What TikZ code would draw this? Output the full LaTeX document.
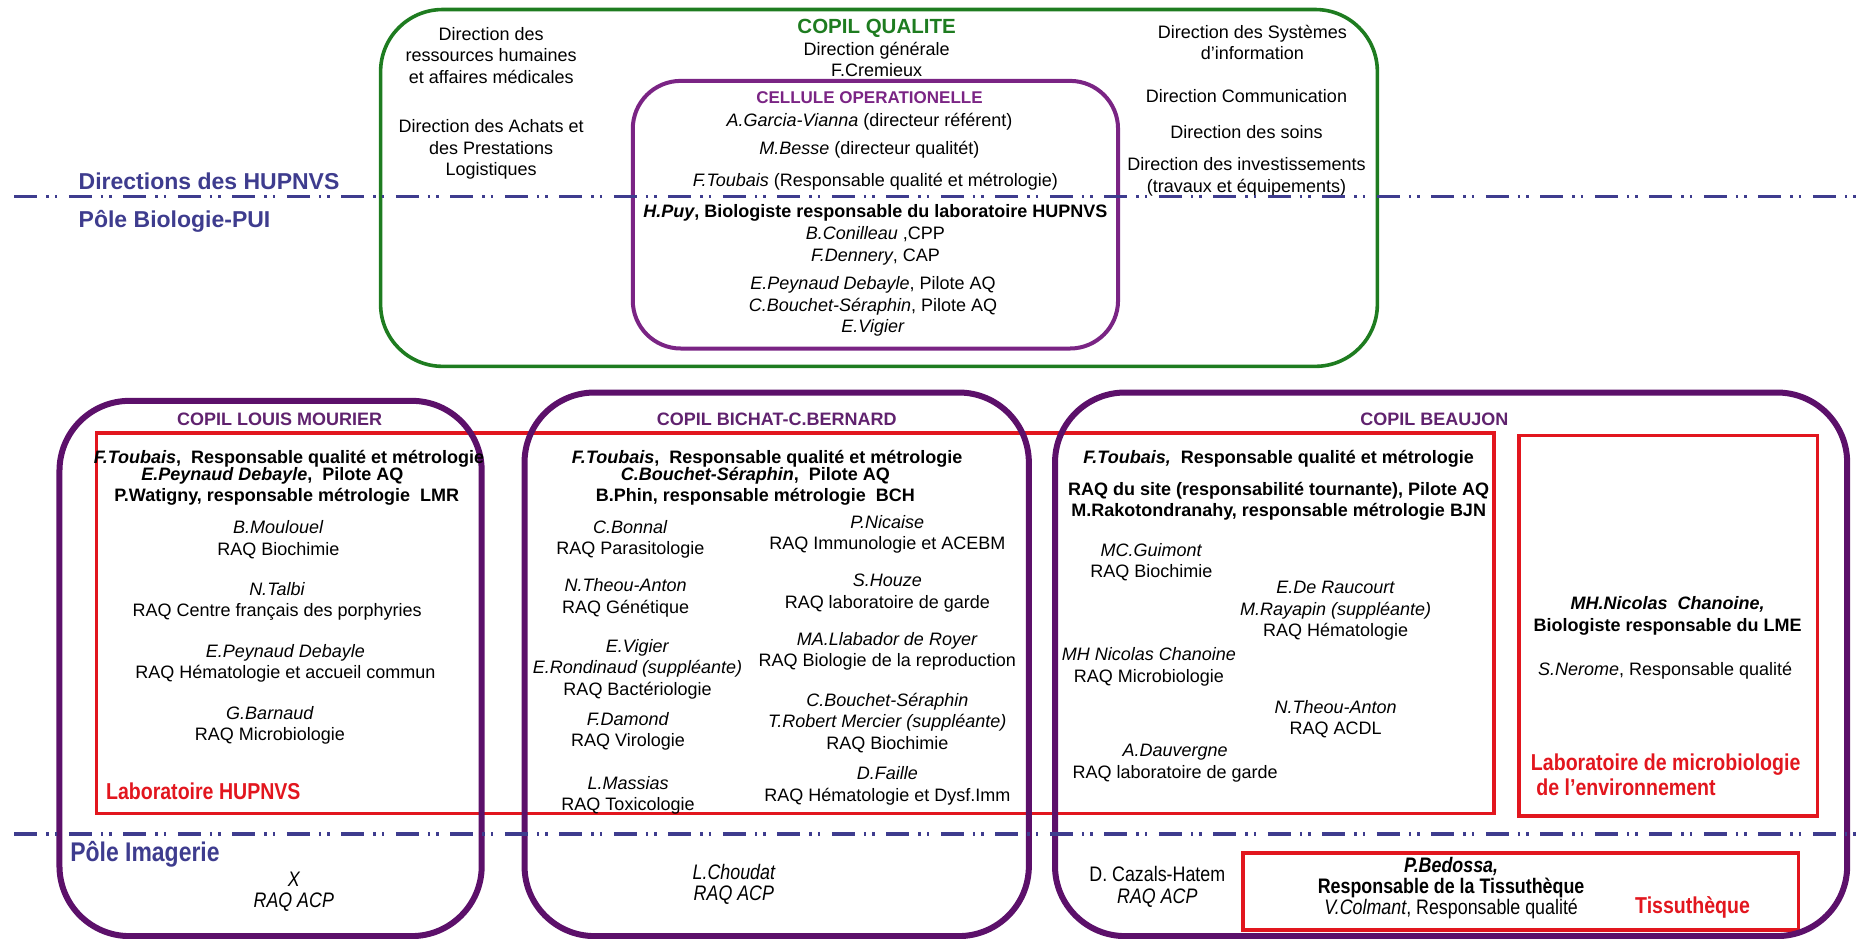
\documentclass[tikz,border=0pt]{standalone}
\usepackage{fontspec}
\setmainfont{Liberation Sans}
\newfontfamily\narrowfont[FakeStretch=0.85]{Liberation Sans}
\definecolor{copilgreen}{RGB}{30,124,32}
\definecolor{cellpurple}{RGB}{122,36,132}
\definecolor{boxpurple}{RGB}{92,16,106}
\definecolor{titlepurple}{RGB}{96,34,110}
\definecolor{labred}{RGB}{226,22,30}
\definecolor{poleblue}{RGB}{62,60,142}
\tikzset{
  txt/.style={font=\fontsize{18}{21.4}\selectfont, align=center, inner sep=0pt, text=black, yshift=-2pt},
  btxt/.style={txt, font=\fontsize{18}{21.4}\selectfont\bfseries},
  ntxt/.style={font=\narrowfont\fontsize{21}{21.4}\selectfont, align=center, inner sep=0pt, text=black, yshift=-2pt},
  ttl/.style={font=\fontsize{18}{21.4}\selectfont\bfseries, text=titlepurple, inner sep=0pt, yshift=-1pt},
  pole/.style={font=\fontsize{23}{26}\selectfont\bfseries, text=poleblue, anchor=west, inner sep=0pt},
  redlbl/.style={font=\narrowfont\fontsize{23}{25}\selectfont\bfseries, text=labred, inner sep=0pt, align=left},
  greenbox/.style={draw=copilgreen, line width=3.6pt, rounded corners=62pt},
  cellbox/.style={draw=cellpurple, line width=4pt, rounded corners=48pt},
  sitebox/.style={draw=boxpurple, line width=6pt, rounded corners=70pt},
  redbox/.style={draw=labred, line width=3.5pt},
  poleline/.style={draw=poleblue, line width=3.5pt, dash pattern=on 23pt off 9pt on 2.5pt off 6pt on 2.5pt off 11.5pt}
}
\begin{document}
\begin{tikzpicture}[x=1.1894pt, y=-1.1894pt]
\useasboundingbox (0,0) rectangle (1568,789);
% ---------------- top: COPIL QUALITE ----------------
\draw[greenbox] (320,8) rectangle (1158,308);
\draw[cellbox] (532,68) rectangle (940,293);
\node[font=\fontsize{20.5}{24}\selectfont\bfseries, text=copilgreen, inner sep=0pt, yshift=-2pt] (copil) at (737,22) {COPIL QUALITE};
\node[txt] (dg) at (737,48.5) {Direction générale\\F.Cremieux};
\node[txt] (drh) at (413,45) {Direction des\\ressources humaines\\et affaires médicales};
\node[txt] (achats) at (413,124) {Direction des Achats et\\des Prestations\\Logistiques};
\node[txt] (dsi) at (1053,34) {Direction des Systèmes\\d’information};
\node[txt] (com) at (1048,79) {Direction Communication};
\node[txt] (soins) at (1048,109) {Direction des soins};
\node[txt] (inv) at (1048,147) {Direction des investissements\\(travaux et équipements)};
\node[font=\fontsize{17}{21}\selectfont\bfseries, text=cellpurple, inner sep=0pt, yshift=-1pt] (cell) at (731,81) {CELLULE OPERATIONELLE};
\node[txt] (garcia) at (731,101) {\textit{A.Garcia-Vianna} (directeur référent)};
\node[txt] (besse) at (731,124) {\textit{M.Besse} (directeur qualitét)};
\node[txt] (toubais) at (736,151) {\textit{F.Toubais} (Responsable qualité et métrologie)};
\node[btxt] (puy) at (736,177) {\textit{H.Puy}, Biologiste responsable du laboratoire HUPNVS};
\node[txt] (conil) at (736,205) {\textit{B.Conilleau} ,CPP\\\textit{F.Dennery}, CAP};
\node[txt] (pilotes) at (734,256) {\textit{E.Peynaud Debayle}, Pilote AQ\\\textit{C.Bouchet-Séraphin}, Pilote AQ\\\textit{E.Vigier}};
% ---------------- pole labels ----------------
\node[pole] (dirh) at (66,152) {Directions des HUPNVS};
\node[pole] (pbio) at (66,186) {Pôle Biologie-PUI};
\node[pole, font=\narrowfont\fontsize{27}{29}\selectfont\bfseries] (pima) at (59,718) {Pôle Imagerie};
% ---------------- red boxes ----------------
\draw[redbox] (81,364) rectangle (1256,684);
\draw[redbox] (1277,366) rectangle (1528,686);
\draw[redbox] (1045,717) rectangle (1512,782);
% ---------------- site boxes ----------------
\draw[sitebox] (50,337) rectangle (405,787);
\draw[sitebox] (441,330) rectangle (865,787);
\draw[sitebox] (887,330) rectangle (1553,787);
% ---------------- Louis Mourier ----------------
\node[ttl] (lmt) at (235,352) {COPIL LOUIS MOURIER};
\node[btxt] (lm1) at (243,384) {\textit{F.Toubais},\ \ Responsable qualité et métrologie};
\node[btxt] (lm2) at (229,398) {\textit{E.Peynaud Debayle},\ \ Pilote AQ};
\node[btxt] (lm3) at (241,416) {P.Watigny,\ responsable métrologie\ \ LMR};
\node[txt] (lma) at (234,452) {\textit{B.Moulouel}\\RAQ Biochimie};
\node[txt] (lmb) at (233,504) {\textit{N.Talbi}\\RAQ Centre français des porphyries};
\node[txt] (lmc) at (240,556) {\textit{E.Peynaud Debayle}\\RAQ Hématologie et accueil commun};
\node[txt] (lmd) at (227,608) {\textit{G.Barnaud}\\RAQ Microbiologie};
\node[redlbl, anchor=west] (labh) at (89,665) {Laboratoire HUPNVS};
\node[ntxt, font=\narrowfont\itshape\fontsize{21}{21.4}\selectfont] (lmx) at (247,748) {X\\RAQ ACP};
% ---------------- Bichat ----------------
\node[ttl] (bct) at (653,352) {COPIL BICHAT-C.BERNARD};
\node[btxt] (bc1) at (645,384) {\textit{F.Toubais},\ \ Responsable qualité et métrologie};
\node[btxt] (bc2) at (635,398) {\textit{C.Bouchet-Séraphin},\ \ Pilote AQ};
\node[btxt] (bc3) at (635,416) {B.Phin,\ responsable métrologie\ \ BCH};
\node[txt] (bca) at (530,452) {\textit{C.Bonnal}\\RAQ Parasitologie};
\node[txt] (bcb) at (526,501) {\textit{N.Theou-Anton}\\RAQ Génétique};
\node[txt] (bcc) at (536,561) {\textit{E.Vigier}\\\textit{E.Rondinaud (suppléante)}\\RAQ Bactériologie};
\node[txt] (bcd) at (528,613) {\textit{F.Damond}\\RAQ Virologie};
\node[txt] (bce) at (528,667) {\textit{L.Massias}\\RAQ Toxicologie};
\node[txt] (bcf) at (746,447.5) {\textit{P.Nicaise}\\RAQ Immunologie et ACEBM};
\node[txt] (bcg) at (746,497) {\textit{S.Houze}\\RAQ laboratoire de garde};
\node[txt] (bch) at (746,546) {\textit{MA.Llabador de Royer}\\RAQ Biologie de la reproduction};
\node[txt] (bci) at (746,606) {\textit{C.Bouchet-Séraphin}\\\textit{T.Robert Mercier (suppléante)}\\RAQ Biochimie};
\node[txt] (bcj) at (746,659) {\textit{D.Faille}\\RAQ Hématologie et Dysf.Imm};
\node[ntxt, font=\narrowfont\itshape\fontsize{21}{21.4}\selectfont] (bcx) at (617,742) {L.Choudat\\RAQ ACP};
% ---------------- Beaujon ----------------
\node[ttl] (bjt) at (1206,352) {COPIL BEAUJON};
\node[btxt] (bj1) at (1075,384) {\textit{F.Toubais,}\ \ Responsable qualité et métrologie};
\node[btxt] (bj2) at (1075,420) {RAQ du site (responsabilité tournante),\ Pilote AQ\\M.Rakotondranahy,\ responsable métrologie\ BJN};
\node[txt] (bja) at (968,471) {\textit{MC.Guimont}\\RAQ Biochimie};
\node[txt] (bjb) at (1123,512) {\textit{E.De Raucourt}\\\textit{M.Rayapin (suppléante)}\\RAQ Hématologie};
\node[txt] (bjc) at (966,559) {\textit{MH Nicolas Chanoine}\\RAQ Microbiologie};
\node[txt] (bjd) at (1123,603) {\textit{N.Theou-Anton}\\RAQ ACDL};
\node[txt] (bje) at (988,640) {\textit{A.Dauvergne}\\RAQ laboratoire de garde};
\node[btxt] (lme1) at (1402,516) {\textit{MH.Nicolas\ \ Chanoine,}\\Biologiste responsable du LME};
\node[txt] (lme2) at (1400,562) {\textit{S.Nerome}, Responsable qualité};
\node[redlbl, anchor=west] (labm) at (1287,651) {Laboratoire de microbiologie\\\ de l’environnement};
\node[ntxt] (bjx) at (973,744) {D. Cazals-Hatem\\\textit{RAQ ACP}};
\node[ntxt] (tis) at (1220,745) {\textbf{\textit{P.Bedossa,}}\\\textbf{Responsable de la Tissuthèque}\\\textit{V.Colmant}, Responsable qualité};
\node[redlbl] (tisl) at (1423,763) {Tissuthèque};
% ---------------- pole separator lines ----------------
\coordinate (l1w) at (12,165);
\coordinate (l1e) at (1568,165);
\coordinate (l2w) at (12,701);
\coordinate (l2e) at (1568,701);
\draw[poleline] (l1w) -- (l1e);
\draw[poleline] (l2w) -- (l2e);
\end{tikzpicture}
\end{document}
